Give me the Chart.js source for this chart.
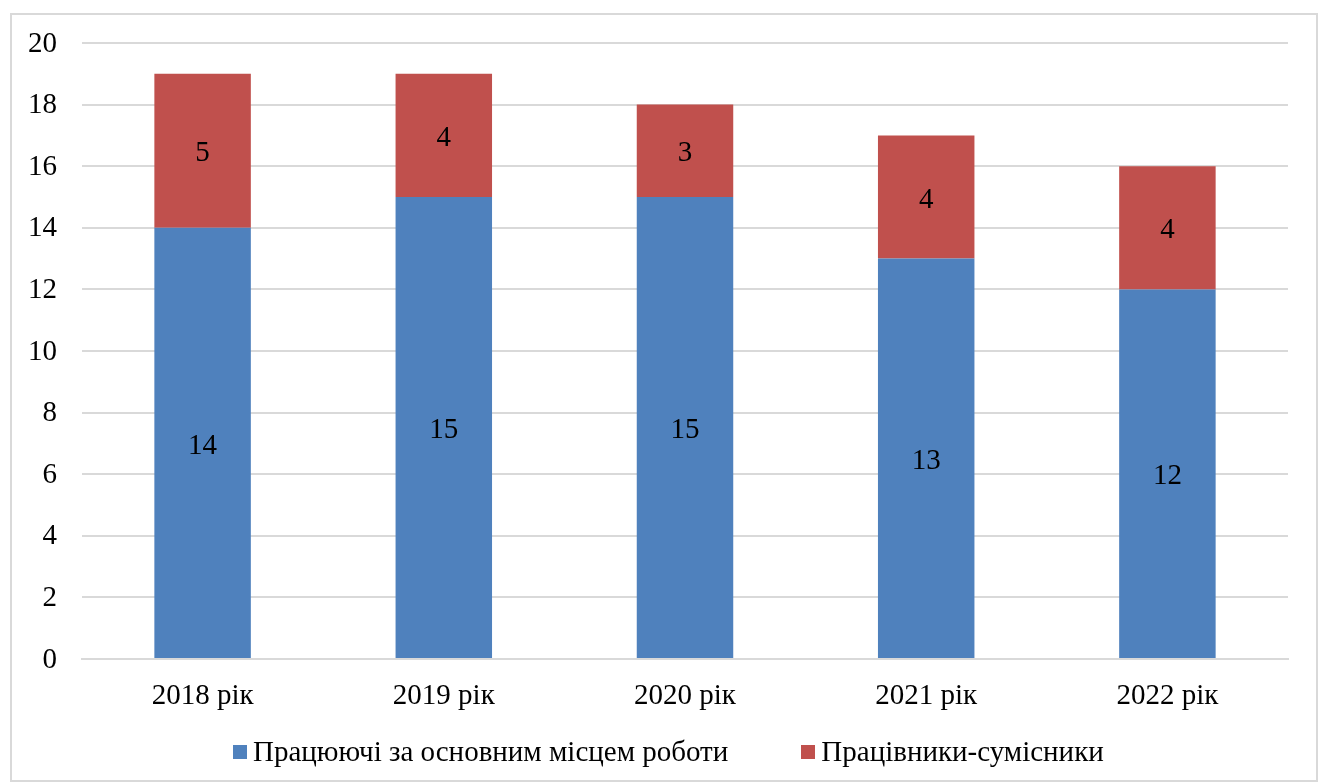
<!DOCTYPE html>
<html>
<head>
<meta charset="utf-8">
<script src="https://cdn.jsdelivr.net/npm/chart.js@4/dist/chart.umd.min.js"></script>
<style>
  html, body { margin: 0; padding: 0; background: #fff; }
  #wrap { position: relative; width: 1322px; height: 783px; }
  canvas { position: absolute; left: 0; top: 0; }
  #legend { position: absolute; left: 233px; top: 735px; display: flex; align-items: center;
            font-family: "Liberation Serif", "Times New Roman", serif; font-size: 29px; color: #000; white-space: nowrap; }
  .item { display: flex; align-items: center; margin-right: 73px; }
  .item:last-child { margin-right: 0; }
  .box { width: 14px; height: 14px; margin-right: 6px; }
</style>
</head>
<body>
<div id="wrap">
  <canvas id="c" width="1322" height="783"></canvas>
  <div id="legend"></div>
</div>
<script>
const categories = ["2018 рік", "2019 рік", "2020 рік", "2021 рік", "2022 рік"];
const seriesNames = ["Працюючі за основним місцем роботи", "Працівники-сумісники"];
const mainJob = [14, 15, 15, 13, 12];
const partTime = [5, 4, 3, 4, 4];
const yTicks = [0, 2, 4, 6, 8, 10, 12, 14, 16, 18, 20];
const colors = ["#4F81BD", "#C0504D"];

const FONT = "'Liberation Serif', 'Times New Roman', serif";

const framePlugin = {
  id: 'frame',
  beforeDraw(chart) {
    const ctx = chart.ctx;
    ctx.save();
    ctx.strokeStyle = '#D9D9D9';
    ctx.lineWidth = 2;
    ctx.strokeRect(11, 14, 1306, 767);
    ctx.restore();
  }
};

const labelPlugin = {
  id: 'barLabels',
  afterDatasetsDraw(chart) {
    const ctx = chart.ctx;
    ctx.save();
    ctx.font = "29px " + FONT;
    ctx.fillStyle = '#000';
    ctx.textAlign = 'center';
    ctx.textBaseline = 'middle';
    chart.data.datasets.forEach((ds, di) => {
      const meta = chart.getDatasetMeta(di);
      meta.data.forEach((bar, i) => {
        const p = bar.getProps(['x', 'y', 'base'], true);
        ctx.fillText(String(ds.data[i]), p.x, (p.y + p.base) / 2 + 3);
      });
    });
    ctx.restore();
  }
};

const chart = new Chart(document.getElementById('c'), {
  type: 'bar',
  data: {
    labels: categories,
    datasets: [
      { label: seriesNames[0], data: mainJob, backgroundColor: colors[0] },
      { label: seriesNames[1], data: partTime, backgroundColor: colors[1] }
    ]
  },
  options: {
    responsive: false,
    animation: false,
    events: [],
    layout: { padding: { left: 0, right: 34, top: 43, bottom: 62 } },
    datasets: { bar: { categoryPercentage: 1.0, barPercentage: 0.4 } },
    plugins: { legend: { display: false }, tooltip: { enabled: false } },
    scales: {
      x: {
        stacked: true,
        grid: { display: false, drawTicks: false },
        border: { display: true, color: '#D9D9D9', width: 2 },
        ticks: { color: '#000', font: { family: FONT, size: 29 }, padding: 20, maxRotation: 0 },
        afterFit(s) { s.height = 62; }
      },
      y: {
        stacked: true,
        min: 0, max: 20,
        afterBuildTicks(s) { s.ticks = yTicks.map(v => ({ value: v })); },
        grid: { color: '#D9D9D9', lineWidth: 2, drawTicks: false },
        border: { display: false },
        ticks: { color: '#000', font: { family: FONT, size: 29 }, padding: 25, labelOffset: 1 },
        afterFit(s) { s.width = 82; }
      }
    }
  },
  plugins: [framePlugin, labelPlugin]
});

const legend = document.getElementById('legend');
chart.data.datasets.forEach(ds => {
  const item = document.createElement('div');
  item.className = 'item';
  const box = document.createElement('div');
  box.className = 'box';
  box.style.background = ds.backgroundColor;
  const txt = document.createElement('span');
  txt.textContent = ds.label;
  item.appendChild(box);
  item.appendChild(txt);
  legend.appendChild(item);
});
</script>
</body>
</html>
